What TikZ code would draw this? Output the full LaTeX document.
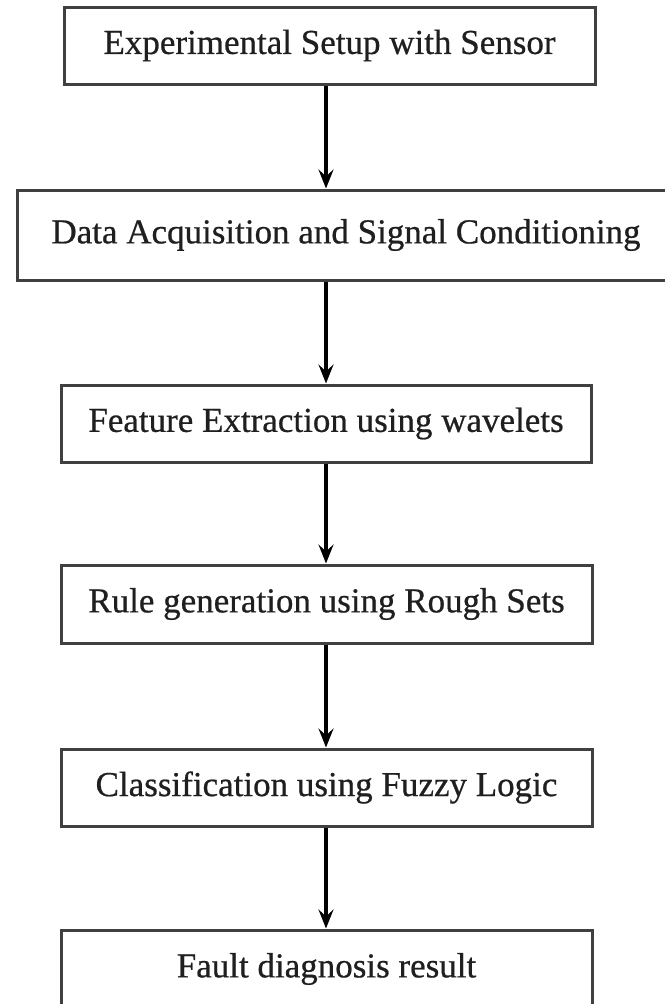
\documentclass[tikz,border=0pt]{standalone}
\usepackage{fontspec}
\setmainfont{Liberation Serif}[FakeBold=0.6]
\newfontfamily\boxfont{Liberation Serif}[FakeBold=0.6]
\usetikzlibrary{arrows.meta}
\begin{document}
\begin{tikzpicture}[x=1pt,y=-1pt,
  box/.style={draw=black!75,line width=3pt,rectangle,inner sep=0pt,
    font=\boxfont\fontsize{35}{40}\selectfont,text=black!88},
  arr/.style={line width=3.6pt,black,-{Stealth[length=19pt,width=15pt,inset=7pt]}}]
\useasboundingbox[fill=white] (0,0) rectangle (664,1004);
\node[box,minimum width=531pt,minimum height=77pt] (b1) at (329.5,45.5) {Experimental Setup with Sensor};
\node[box,minimum width=658pt,minimum height=90pt] (b2) at (346,235) {Data Acquisition and Signal Conditioning};
\node[box,minimum width=530pt,minimum height=77pt] (b3) at (326,423.5) {Feature Extraction using wavelets};
\node[box,minimum width=531pt,minimum height=78pt] (b4) at (326.5,604) {Rule generation using Rough Sets};
\node[box,minimum width=531pt,minimum height=77pt] (b5) at (326.5,787.5) {Classification using Fuzzy Logic};
\node[box,minimum width=531pt,minimum height=78pt] (b6) at (326.5,969) {Fault diagnosis result};
\draw[arr] (b1.south -| b3.center) -- (b2.north -| b3.center);
\draw[arr] (b2.south -| b3.center) -- (b3.north -| b3.center);
\draw[arr] (b3.south) -- (b4.north -| b3.center);
\draw[arr] (b4.south -| b3.center) -- (b5.north -| b3.center);
\draw[arr] (b5.south -| b3.center) -- (b6.north -| b3.center);
\end{tikzpicture}
\end{document}
